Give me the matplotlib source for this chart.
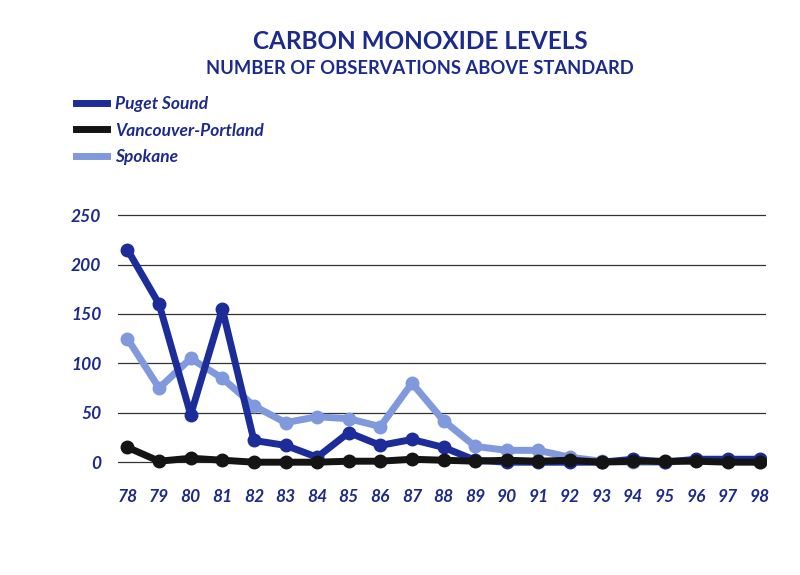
import matplotlib.pyplot as plt
from matplotlib.lines import Line2D

# Data
years = [78, 79, 80, 81, 82, 83, 84, 85, 86, 87, 88, 89, 90, 91, 92, 93, 94, 95, 96, 97, 98]
year_labels = [str(y) for y in years]
puget_sound = [215, 160, 48, 155, 22, 17, 5, 30, 17, 23, 15, 2, 0, 0, 0, 0, 3, 0, 3, 3, 3]
vancouver_portland = [15, 1, 4, 2, 0, 0, 0, 1, 1, 3, 2, 1, 2, 1, 2, 0, 1, 1, 1, 0, 0]
spokane = [125, 75, 105, 85, 57, 40, 46, 44, 36, 80, 42, 16, 12, 12, 5, 1, 0, 0, 2, 2, 0]
y_ticks = [0, 50, 100, 150, 200, 250]

navy = '#1c2a8c'
c_puget = '#1c2c98'
c_vanc = '#141414'
c_spok = '#8098dc'

plt.rcParams['font.family'] = ['Lato', 'DejaVu Sans']

fig = plt.figure(figsize=(8, 5.75), dpi=100)
ax = fig.add_axes([0.1475, 0.179, 0.81, 0.464])

# Gridlines
for v in y_ticks:
    ax.axhline(v, color='#333333', lw=0.9, zorder=1)

ax.plot(years, spokane, color=c_spok, lw=5, marker='o', ms=9, zorder=3)
ax.plot(years, puget_sound, color=c_puget, lw=5, marker='o', ms=9, zorder=4)
ax.plot(years, vancouver_portland, color=c_vanc, lw=5, marker='o', ms=9, zorder=5)

ax.set_xlim(77.7, 98.2)
ax.set_ylim(-10, 260)
ax.set_xticks(years)
ax.set_xticklabels(year_labels)
ax.set_yticks(y_ticks)
for s in ax.spines.values():
    s.set_visible(False)
ax.tick_params(length=0)
ax.tick_params(axis='x', pad=12)
ax.tick_params(axis='y', pad=12)
for lab in ax.get_xticklabels() + ax.get_yticklabels():
    lab.set_fontsize(12.5)
    lab.set_fontweight('bold')
    lab.set_fontstyle('italic')
    lab.set_color(navy)

# Titles
fig.text(0.525, 0.928, 'CARBON MONOXIDE LEVELS', ha='center', va='center',
         fontsize=17.5, fontweight='bold', color=navy)
fig.text(0.525, 0.88, 'NUMBER OF OBSERVATIONS ABOVE STANDARD', ha='center', va='center',
         fontsize=13.2, fontweight='bold', color=navy)

# Legend
handles = [Line2D([], [], color=c_puget, lw=5),
           Line2D([], [], color=c_vanc, lw=5),
           Line2D([], [], color=c_spok, lw=5)]
leg = fig.legend(handles, ['Puget Sound', 'Vancouver-Portland', 'Spokane'],
                 loc='upper left', bbox_to_anchor=(0.075, 0.86), frameon=False,
                 handlelength=1.8, handletextpad=0.45, labelspacing=0.6,
                 prop={'size': 12.5, 'weight': 'bold', 'style': 'italic'})
for t in leg.get_texts():
    t.set_color(navy)

fig.savefig('out.png', dpi=100)
